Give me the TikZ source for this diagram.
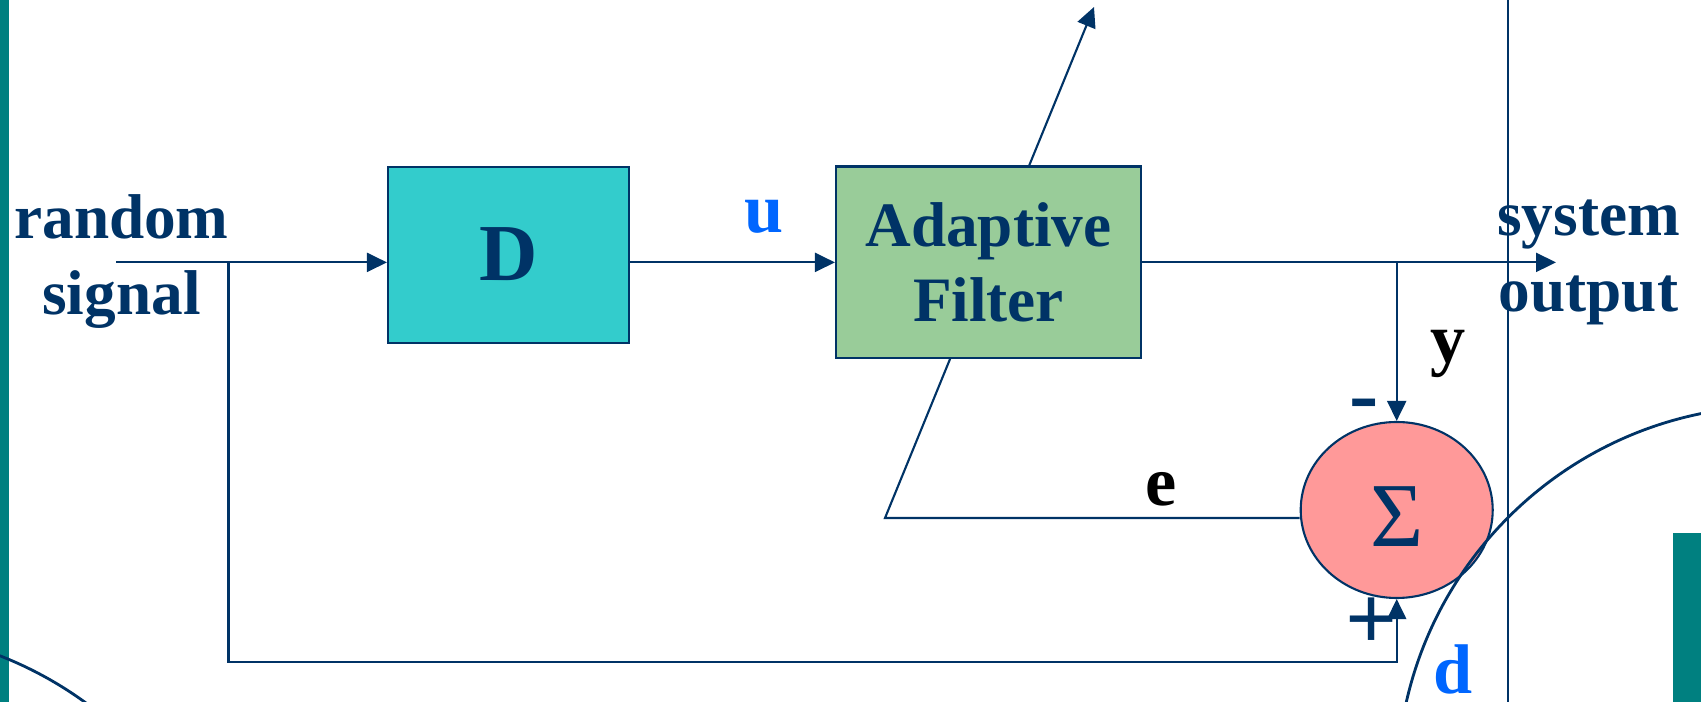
\documentclass[tikz,border=0pt]{standalone}
\usepackage{fontspec}
\setmainfont{Liberation Serif}
\usetikzlibrary{arrows.meta,shapes.geometric,backgrounds}
\definecolor{navy}{HTML}{003366}
\definecolor{slideteal}{HTML}{008080}
\definecolor{boxcyan}{HTML}{33CCCC}
\definecolor{boxgreen}{HTML}{99CC99}
\definecolor{sumpink}{HTML}{FF9999}
\definecolor{sigblue}{HTML}{0066FF}

\begin{document}
\begin{tikzpicture}[>={Triangle[length=2mm,width=1.9mm]}, line width=0.6pt,
  block/.style={draw=navy, fill=#1, inner sep=0pt, text=navy, align=center,
    font=\bfseries\fontsize{18}{21.6}\selectfont},
  lbl/.style={anchor=base, inner sep=0pt, font=\bfseries\fontsize{20}{24}\selectfont},
  wire/.style={draw=navy, line width=0.6pt}]
  \useasboundingbox (0,0) rectangle (17.01,7.02);
  % ---- blocks ----
  \node[block=boxcyan, minimum width=2.41cm, minimum height=1.76cm,
    font=\bfseries\fontsize{23}{27}\selectfont] (delay) at (5.085,4.474) {D};
  \node[block=boxgreen, minimum width=3.05cm, minimum height=1.917cm] (filter) at (9.885,4.396) {Adaptive\\Filter};
  \node[ellipse, draw=navy, fill=sumpink, minimum width=1.92cm, minimum height=1.76cm, inner sep=0pt,
    text=navy, text height=0.74cm, font=\fontsize{26}{30}\selectfont] (sum) at (13.967,1.92) {Σ};
  % ---- in/out texts ----
  \node[text=navy, align=center, font=\bfseries\fontsize{18}{21.6}\selectfont] (src) at (1.215,4.40) {random\\signal};
  \node[text=navy, align=center, font=\bfseries\fontsize{18}{21.6}\selectfont] (sysout) at (15.885,4.40) {system\\output};
  % ---- signal labels ----
  \node[lbl, text=sigblue] (ulbl) at (7.64,4.69) {u};
  \node[lbl] (elbl) at (11.61,1.96) {e};
  \node[lbl] (ylbl) at (14.48,3.39) {y};
  \node[lbl, text=sigblue] (dlbl) at (14.53,0.08) {d};
  \node[lbl, text=navy, font=\bfseries\fontsize{25}{30}\selectfont] (minus) at (13.64,2.78) {-};
  \node[lbl, text=navy, font=\bfseries\fontsize{26}{30}\selectfont] (plus) at (13.72,0.52) {+};
  % ---- wires ----
  \coordinate (insrc) at (1.16,4.396);
  \coordinate (inbranch) at (2.285,4.396);
  \coordinate (ybranch) at (13.967,4.396);
  \coordinate (outtip) at (15.56,4.396);
  \coordinate (dcorner) at (13.967,0.40);
  \coordinate (ecorner) at (8.85,1.84);
  \coordinate (wtip) at (10.94,6.95);
  \draw[wire,->] (insrc) -- (insrc -| delay.west);
  \draw[wire,->] (filter.west -| delay.east) -- (filter.west);
  \draw[wire,->] (filter.east) -- (outtip);
  \draw[wire,->] (ybranch) -- (sum.north);
  \draw[wire,->] (inbranch) |- (dcorner) -- (sum.south);
  \begin{pgfonlayer}{background}
    \draw[wire,->] (sum.west |- ecorner) -- (ecorner) -- (wtip);
  \end{pgfonlayer}
  % ---- slide decoration ----
  \begin{scope}
    \clip (0,0) rectangle (17.01,7.02);
    \fill[slideteal] (0,0) rectangle (0.085,7.02);
    \fill[slideteal] (16.73,0) rectangle (17.01,1.69);
    \draw[navy, line width=0.6pt] (15.08,0) -- (15.08,7.02);
    \draw[navy, line width=0.8pt] (17.77,-0.84) circle (3.80);
    \draw[navy, line width=0.8pt] (-1.38,-3.08) circle (3.80);
  \end{scope}
\end{tikzpicture}
\end{document}
